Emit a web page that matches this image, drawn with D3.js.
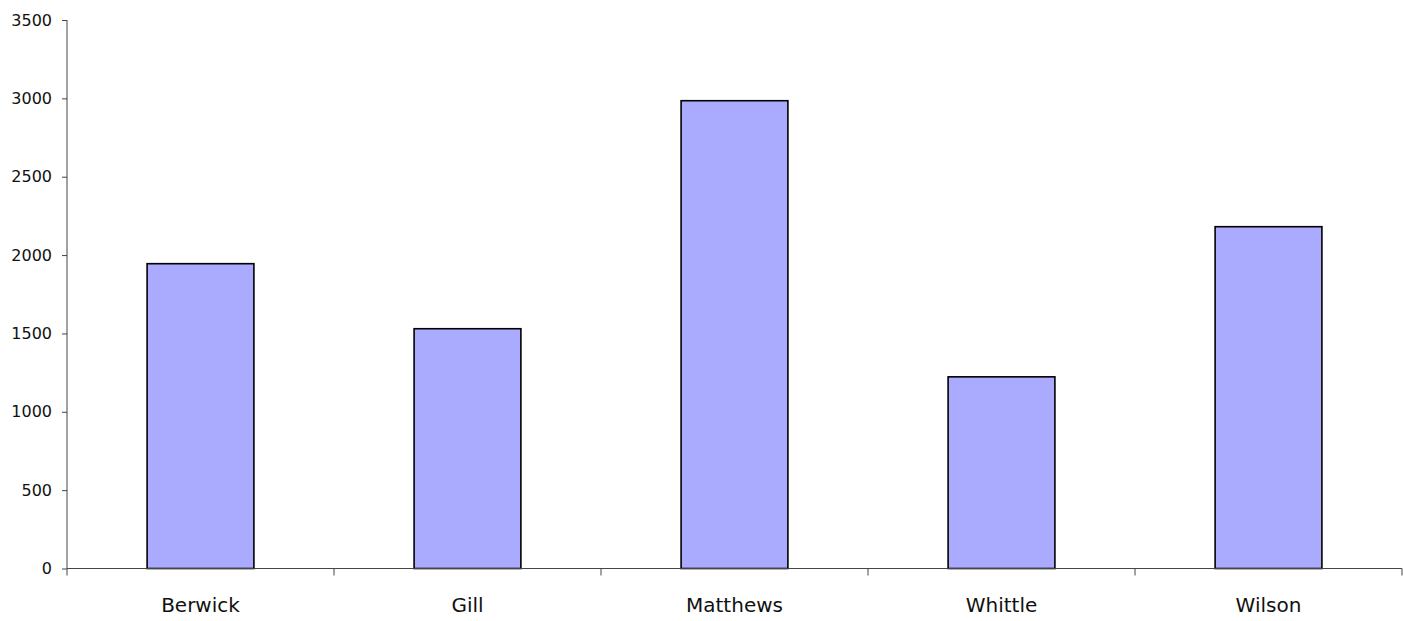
<!DOCTYPE html>
<html>
<head>
<meta charset="utf-8">
<script src="https://cdn.jsdelivr.net/npm/d3@7"></script>
<style>
  body { margin: 0; background: #fff; }
  svg text { font-family: "DejaVu Sans", Verdana, sans-serif; fill: #111; }
</style>
</head>
<body>
<div id="chart"></div>
<script>
var names = ["Berwick", "Gill", "Matthews", "Whittle", "Wilson"];
var values = [1945, 1530, 2985, 1223, 2181];
var yTicks = [0, 500, 1000, 1500, 2000, 2500, 3000, 3500];

var width = 1403, height = 621;
var mLeft = 67, mRight = 1402, mTop = 20, mBottom = 568.5;

var svg = d3.select("#chart").append("svg")
    .attr("width", width)
    .attr("height", height);

var x = d3.scaleBand()
    .domain(names)
    .range([mLeft, mRight])
    .paddingInner(0.6)
    .paddingOuter(0.3);

// band used for the category ticks (no padding)
var xCat = d3.scaleBand().domain(names).range([mLeft, mRight]);

var y = d3.scaleLinear()
    .domain([0, 3500])
    .range([mBottom, mTop]);

// bars
svg.selectAll(".bar")
    .data(values)
  .enter().append("rect")
    .attr("class", "bar")
    .attr("x", function(d, i){ return x(names[i]); })
    .attr("y", function(d){ return y(d); })
    .attr("width", x.bandwidth())
    .attr("height", function(d){ return y(0) - y(d); })
    .style("fill", "#aaaaff")
    .style("stroke", "#000")
    .style("stroke-width", 1.6);

// y axis
var yAxis = svg.append("g")
    .attr("transform", "translate(" + mLeft + ",0)")
    .call(d3.axisLeft(y).tickValues(yTicks).tickSize(5).tickPadding(10).tickFormat(d3.format("d")));
yAxis.select(".domain").attr("d", "M0," + mTop + "V" + (mBottom + 7)).attr("stroke", "#444");
yAxis.selectAll(".tick line").attr("stroke", "#444");
yAxis.selectAll("text").style("font-size", "16px").style("font-family", "DejaVu Sans, sans-serif");

// x axis: line + ticks at category boundaries
var xg = svg.append("g").attr("transform", "translate(0," + mBottom + ")");
xg.append("line")
    .attr("x1", mLeft).attr("x2", mRight)
    .attr("stroke", "#444");
var bounds = names.map(function(n){ return xCat(n) + xCat.bandwidth(); });
xg.selectAll(".xt")
    .data(bounds)
  .enter().append("line")
    .attr("class", "xt")
    .attr("x1", function(d){ return d; })
    .attr("x2", function(d){ return d; })
    .attr("y1", 0).attr("y2", 7)
    .attr("stroke", "#444");
xg.selectAll(".xl")
    .data(names)
  .enter().append("text")
    .attr("class", "xl")
    .attr("x", function(d){ return xCat(d) + xCat.bandwidth() / 2; })
    .attr("y", 43)
    .attr("text-anchor", "middle")
    .style("font-size", "20px")
    .text(function(d){ return d; });
</script>
</body>
</html>
